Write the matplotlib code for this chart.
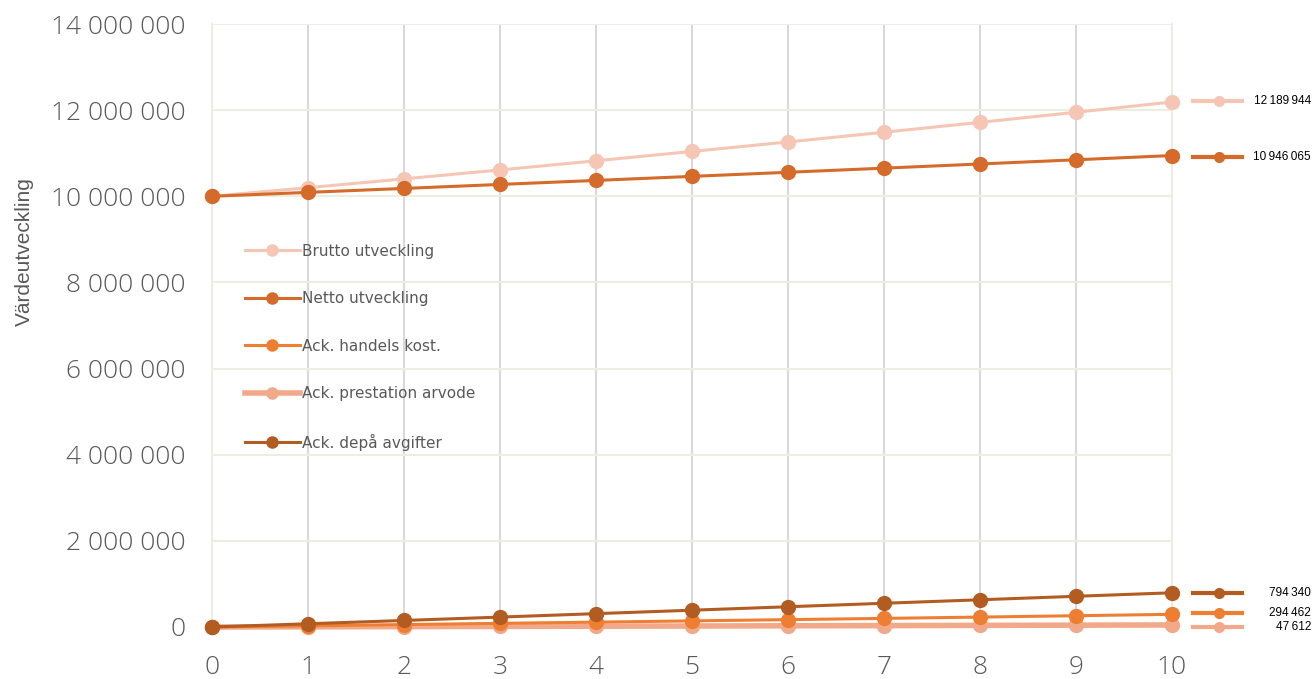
import matplotlib.pyplot as plt
from matplotlib.lines import Line2D

years = list(range(11))
brutto = [10000000, 10200000, 10404000, 10612080, 10824322, 11040808,
          11261624, 11486857, 11716594, 11950926, 12189944]
netto = [10000000, 10090800, 10182400, 10274900, 10368200, 10462300,
         10557300, 10653200, 10749900, 10847500, 10946065]
handels = [0, 28000, 56000, 85000, 113000, 142000, 171000, 200000,
           230000, 262000, 294462]
prestation = [0, 4500, 9000, 13500, 18200, 23000, 27800, 32700,
              37600, 42600, 47612]
depa = [0, 75000, 152000, 230000, 310000, 390000, 470000, 551000,
        632000, 713000, 794340]

names = ["Brutto utveckling", "Netto utveckling", "Ack. handels kost.",
         "Ack. prestation arvode", "Ack. depå avgifter"]
series = [brutto, netto, handels, prestation, depa]
colors = ["#f5c6b4", "#d46b2a", "#ee7f32", "#f2a98a", "#b35c22"]
widths = [2.2, 2.2, 2.2, 4.0, 2.2]
yticks = list(range(0, 14000001, 2000000))

fig = plt.figure(figsize=(13.13, 6.79), dpi=100)
ax = fig.add_axes([212 / 1313, 52 / 679, 960 / 1313, 603 / 679])

# draw order: costs under the main lines
order = [3, 2, 4, 0, 1]
for i in order:
    ax.plot(years, series[i], color=colors[i], lw=widths[i], marker="o",
            markersize=10, zorder=3 + order.index(i), clip_on=False,
            label=names[i])

ax.set_xlim(0, 10)
ax.set_ylim(0, 14000000)
ax.set_xticks(years)
ax.set_yticks(yticks)
ax.set_yticklabels([f"{v:,}".replace(",", " ") for v in yticks])
ax.tick_params(length=0, labelsize=19, labelcolor="#595959")
ax.tick_params(axis="y", pad=19)
ax.tick_params(axis="x", pad=20)
for lab in ax.get_xticklabels() + ax.get_yticklabels():
    lab.set_family(["Open Sans", "DejaVu Sans"])
    lab.set_fontweight("light")

ax.grid(axis="x", color="#d9d9d9", lw=1.5)
ax.grid(axis="y", color="#ebeee0", lw=1.5)
ax.set_axisbelow(True)
for side in ["top", "bottom"]:
    ax.spines[side].set_visible(False)
for side in ["left", "right"]:
    ax.spines[side].set_color("#ebeee0")
    ax.spines[side].set_linewidth(1.5)

ax.set_ylabel("Värdeutveckling", fontsize=15, color="#595959",
              family=["Liberation Sans", "DejaVu Sans"])
ax.yaxis.set_label_coords(-0.186, 0.622)

handles = [Line2D([], [], color=colors[i], lw=widths[i], marker="o",
                  markersize=8) for i in range(5)]
leg = ax.legend(handles, names, loc="upper left",
                bbox_to_anchor=(0.028, 0.646), frameon=False, fontsize=11,
                labelspacing=2.13, handlelength=3.6, handletextpad=0.15,
                borderaxespad=0)
for t in leg.get_texts():
    t.set_color("#595959")

# value keys to the right of the plot
key_px = [101, 157, 613, 627, 593]
for i in range(5):
    yf = 1 - key_px[i] / 679
    fig.add_artist(Line2D([1193 / 1313, 1242 / 1313], [yf, yf],
                          color=colors[i], lw=3))
    fig.add_artist(Line2D([1219 / 1313], [yf], color=colors[i],
                          marker="o", markersize=7))
    fig.text(1311 / 1313, yf, f"{series[i][-1]:,}".replace(",", "\u2009"),
             ha="right", va="center", fontsize=8.5, color="#000000",
             family=["Liberation Sans", "DejaVu Sans"])

fig.savefig("out.png", dpi=100)
